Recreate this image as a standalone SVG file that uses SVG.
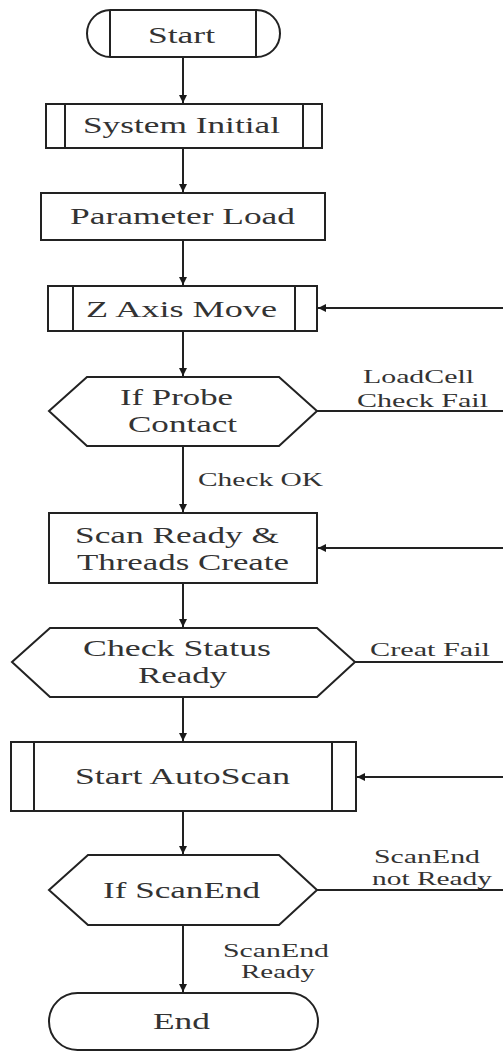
<svg xmlns="http://www.w3.org/2000/svg" width="503" height="1052" viewBox="0 0 503 1052">
  <defs>
    <marker id="arrow" markerWidth="10" markerHeight="10" refX="9" refY="5" orient="auto" markerUnits="userSpaceOnUse">
      <path d="M1,1 L9,5 L1,9 Z" fill="#1a1a1a"/>
    </marker>
  </defs>
  <style>
    .shape { fill: #ffffff; stroke: #222222; stroke-width: 2; }
    .bar { stroke: #222222; stroke-width: 2; fill: none; }
    .edge { stroke: #222222; stroke-width: 2; fill: none; }
    .lbl { font-family: "Liberation Serif", "Times New Roman", serif; font-size: 23px; fill: #333333; }
    .elbl { font-family: "Liberation Serif", "Times New Roman", serif; font-size: 19px; fill: #333333; }
  </style>
  <rect width="503" height="1052" fill="#ffffff"/>

  <!-- connectors -->
  <g id="connectors">
    <line class="edge" x1="183" y1="57" x2="183" y2="103" marker-end="url(#arrow)"/>
    <line class="edge" x1="183" y1="148" x2="183" y2="192" marker-end="url(#arrow)"/>
    <line class="edge" x1="183" y1="240" x2="183" y2="285" marker-end="url(#arrow)"/>
    <line class="edge" x1="183" y1="331" x2="183" y2="376" marker-end="url(#arrow)"/>
    <line class="edge" x1="183" y1="446" x2="183" y2="512" marker-end="url(#arrow)"/>
    <line class="edge" x1="183" y1="583" x2="183" y2="627" marker-end="url(#arrow)"/>
    <line class="edge" x1="183" y1="697" x2="183" y2="741" marker-end="url(#arrow)"/>
    <line class="edge" x1="183" y1="811" x2="183" y2="854" marker-end="url(#arrow)"/>
    <line class="edge" x1="183" y1="925" x2="183" y2="992" marker-end="url(#arrow)"/>
    <!-- return paths entering from the right -->
    <line class="edge" x1="503" y1="308" x2="318" y2="308" marker-end="url(#arrow)"/>
    <line class="edge" x1="503" y1="548" x2="318" y2="548" marker-end="url(#arrow)"/>
    <line class="edge" x1="503" y1="777" x2="357" y2="777" marker-end="url(#arrow)"/>
    <!-- branch exits to the right -->
    <line class="edge" x1="317" y1="411" x2="503" y2="411"/>
    <line class="edge" x1="355" y1="662" x2="503" y2="662"/>
    <line class="edge" x1="317" y1="890" x2="503" y2="890"/>
    <!-- branch labels -->
    <text class="elbl" x="363" y="383" textLength="111" lengthAdjust="spacingAndGlyphs">LoadCell</text>
    <text class="elbl" x="357" y="407" textLength="131" lengthAdjust="spacingAndGlyphs">Check Fail</text>
    <text class="elbl" x="198" y="486" textLength="125" lengthAdjust="spacingAndGlyphs">Check OK</text>
    <text class="elbl" x="370" y="656" textLength="120" lengthAdjust="spacingAndGlyphs">Creat Fail</text>
    <text class="elbl" x="374" y="863" textLength="106" lengthAdjust="spacingAndGlyphs">ScanEnd</text>
    <text class="elbl" x="372" y="885" textLength="120" lengthAdjust="spacingAndGlyphs">not Ready</text>
    <text class="elbl" x="223" y="957" textLength="106" lengthAdjust="spacingAndGlyphs">ScanEnd</text>
    <text class="elbl" x="241" y="978" textLength="74" lengthAdjust="spacingAndGlyphs">Ready</text>
  </g>

  <g id="start">
    <rect class="shape" x="87" y="10" width="193" height="47" rx="23.5" ry="23.5"/>
    <line class="bar" x1="110" y1="10" x2="110" y2="57"/>
    <line class="bar" x1="256" y1="10" x2="256" y2="57"/>
    <text class="lbl" x="148" y="43" textLength="67" lengthAdjust="spacingAndGlyphs">Start</text>
  </g>

  <g id="system-initial">
    <rect class="shape" x="46" y="104" width="276" height="44"/>
    <line class="bar" x1="65" y1="104" x2="65" y2="148"/>
    <line class="bar" x1="303" y1="104" x2="303" y2="148"/>
    <text class="lbl" x="83" y="133" textLength="197" lengthAdjust="spacingAndGlyphs">System Initial</text>
  </g>

  <g id="parameter-load">
    <rect class="shape" x="41" y="193" width="284" height="47"/>
    <text class="lbl" x="70" y="224" textLength="225" lengthAdjust="spacingAndGlyphs">Parameter Load</text>
  </g>

  <g id="z-axis-move">
    <rect class="shape" x="48" y="286" width="269" height="45"/>
    <line class="bar" x1="73" y1="286" x2="73" y2="331"/>
    <line class="bar" x1="295" y1="286" x2="295" y2="331"/>
    <text class="lbl" x="86" y="317" textLength="191" lengthAdjust="spacingAndGlyphs">Z Axis Move</text>
  </g>

  <g id="if-probe-contact">
    <polygon class="shape" points="49,411 87,377 279,377 317,411 279,446 87,446"/>
    <text class="lbl" x="120" y="405" textLength="113" lengthAdjust="spacingAndGlyphs">If Probe</text>
    <text class="lbl" x="128" y="432" textLength="109" lengthAdjust="spacingAndGlyphs">Contact</text>
  </g>

  <g id="scan-ready">
    <rect class="shape" x="49" y="513" width="268" height="70"/>
    <text class="lbl" x="75" y="543" textLength="204" lengthAdjust="spacingAndGlyphs">Scan Ready &amp;</text>
    <text class="lbl" x="77" y="570" textLength="212" lengthAdjust="spacingAndGlyphs">Threads Create</text>
  </g>

  <g id="check-status-ready">
    <polygon class="shape" points="12,662 50,628 317,628 355,662 317,697 50,697"/>
    <text class="lbl" x="83" y="656" textLength="188" lengthAdjust="spacingAndGlyphs">Check Status</text>
    <text class="lbl" x="138" y="683" textLength="89" lengthAdjust="spacingAndGlyphs">Ready</text>
  </g>

  <g id="start-autoscan">
    <rect class="shape" x="11" y="742" width="345" height="69"/>
    <line class="bar" x1="34" y1="742" x2="34" y2="811"/>
    <line class="bar" x1="332" y1="742" x2="332" y2="811"/>
    <text class="lbl" x="75" y="784" textLength="215" lengthAdjust="spacingAndGlyphs">Start AutoScan</text>
  </g>

  <g id="if-scanend">
    <polygon class="shape" points="49,890 88,855 279,855 317,890 279,925 88,925"/>
    <text class="lbl" x="103" y="898" textLength="157" lengthAdjust="spacingAndGlyphs">If ScanEnd</text>
  </g>

  <g id="end">
    <rect class="shape" x="49" y="993" width="269" height="57" rx="28.5" ry="28.5"/>
    <text class="lbl" x="153" y="1029" textLength="57" lengthAdjust="spacingAndGlyphs">End</text>
  </g>
</svg>
